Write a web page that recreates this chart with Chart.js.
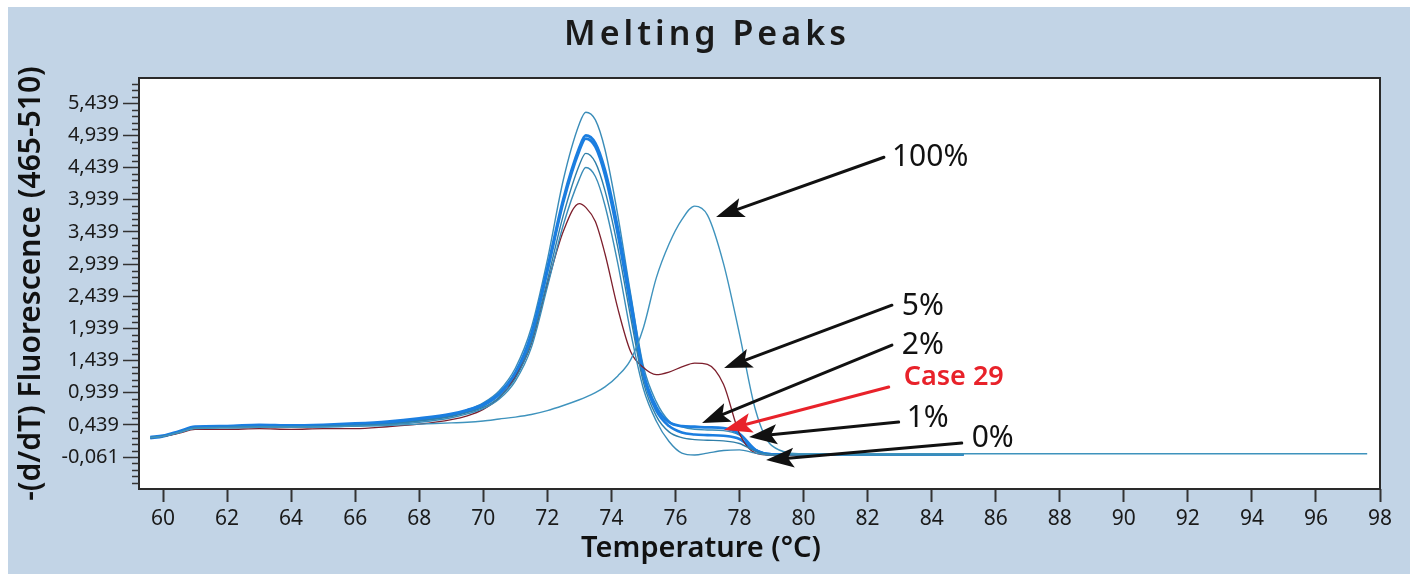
<!DOCTYPE html>
<html><head><meta charset="utf-8">
<script src="https://cdn.jsdelivr.net/npm/chart.js@4.4.1/dist/chart.umd.min.js"></script>
<style>html,body{margin:0;padding:0;background:#fff;}canvas{display:block;}</style>
</head><body>
<canvas id="c" width="1410" height="574"></canvas>
<script>
const chartTitle = 'Melting Peaks';
const xTitle = 'Temperature (°C)';
const yTitle = '-(d/dT) Fluorescence (465-510)';

const temps = [59.6, 60, 60.5, 61, 62, 63, 64, 65, 66, 67, 68, 69, 69.5, 70, 70.5, 71, 71.5, 72, 72.5, 73, 73.2, 73.5, 73.8, 74.2, 74.6, 75, 75.4, 75.8, 76.2, 76.6, 77, 77.5, 78, 78.5, 79, 80, 81, 82, 83, 84, 85, 86, 88, 90, 92, 94, 96, 97.6];

const curveA = [0.24, 0.27, 0.33, 0.40, 0.41, 0.42, 0.42, 0.43, 0.45, 0.48, 0.53, 0.60, 0.67, 0.78, 0.97, 1.32, 1.95, 3.00, 4.25, 5.12, 5.30, 5.18, 4.72, 3.70, 2.48, 1.35, 0.80, 0.50, 0.41, 0.37, 0.36, 0.35, 0.28, 0.06, -0.01, -0.02, -0.02, -0.02, -0.02, -0.02, -0.02, null, null, null, null, null, null, null];
const curveB = [0.25, 0.27, 0.34, 0.41, 0.42, 0.44, 0.43, 0.44, 0.46, 0.49, 0.54, 0.61, 0.67, 0.76, 0.93, 1.25, 1.85, 2.87, 3.95, 4.75, 4.94, 4.82, 4.40, 3.50, 2.38, 1.25, 0.72, 0.48, 0.42, 0.41, 0.40, 0.39, 0.30, 0.05, -0.02, -0.02, -0.02, -0.02, -0.02, -0.02, -0.02, null, null, null, null, null, null, null];
const curveC = [0.23, 0.26, 0.33, 0.40, 0.41, 0.42, 0.41, 0.42, 0.43, 0.46, 0.51, 0.59, 0.65, 0.74, 0.91, 1.22, 1.80, 2.82, 3.90, 4.70, 4.89, 4.76, 4.32, 3.40, 2.28, 1.20, 0.66, 0.42, 0.32, 0.29, 0.28, 0.27, 0.22, 0.04, -0.02, -0.02, -0.02, -0.02, -0.02, -0.02, -0.02, null, null, null, null, null, null, null];
const curveD = [0.24, 0.26, 0.32, 0.39, 0.40, 0.41, 0.41, 0.42, 0.43, 0.45, 0.50, 0.57, 0.63, 0.71, 0.87, 1.16, 1.72, 2.68, 3.70, 4.48, 4.66, 4.52, 4.08, 3.20, 2.12, 1.10, 0.58, 0.33, 0.24, 0.21, 0.20, 0.19, 0.15, 0.03, -0.02, -0.02, -0.02, -0.02, -0.02, -0.02, -0.02, null, null, null, null, null, null, null];
const curveE = [0.24, 0.26, 0.32, 0.39, 0.40, 0.41, 0.41, 0.41, 0.42, 0.44, 0.48, 0.55, 0.61, 0.69, 0.84, 1.12, 1.64, 2.58, 3.55, 4.26, 4.44, 4.30, 3.85, 2.95, 1.88, 1.00, 0.50, 0.18, 0.00, -0.03, 0.00, 0.04, 0.05, 0.00, -0.03, -0.03, -0.03, -0.03, -0.03, -0.03, -0.03, null, null, null, null, null, null, null];
const curve5pct = [0.24, 0.26, 0.31, 0.37, 0.37, 0.38, 0.37, 0.38, 0.38, 0.41, 0.45, 0.52, 0.58, 0.68, 0.86, 1.18, 1.70, 2.62, 3.45, 3.88, 3.82, 3.60, 3.10, 2.25, 1.58, 1.33, 1.22, 1.26, 1.34, 1.40, 1.38, 1.07, 0.30, 0.00, -0.03, -0.03, -0.03, null, null, null, null, null, null, null, null, null, null, null];
const curve100pct = [0.24, 0.26, 0.32, 0.38, 0.39, 0.40, 0.40, 0.41, 0.42, 0.43, 0.45, 0.47, 0.48, 0.50, 0.53, 0.56, 0.60, 0.66, 0.74, 0.83, 0.87, 0.94, 1.03, 1.20, 1.45, 1.95, 2.72, 3.25, 3.63, 3.84, 3.70, 2.95, 1.85, 0.67, 0.12, -0.01, -0.01, -0.01, -0.01, -0.01, -0.01, -0.01, -0.01, -0.01, -0.01, -0.01, -0.01, -0.01];

const xTickValues = [60, 62, 64, 66, 68, 70, 72, 74, 76, 78, 80, 82, 84, 86, 88, 90, 92, 94, 96, 98];
const yTickValues = [-0.061, 0.439, 0.939, 1.439, 1.939, 2.439, 2.939, 3.439, 3.939, 4.439, 4.939, 5.439];
const yTickLabels = ['-0,061', '0,439', '0,939', '1,439', '1,939', '2,439', '2,939', '3,439', '3,939', '4,439', '4,939', '5,439'];

const annoLabels = ['100%', '5%', '2%', 'Case 29', '1%', '0%'];
const annoTextX = [82.76, 83.07, 83.07, 83.13, 83.22, 85.25];
const annoTextY = [4.60, 2.285, 1.679, 1.182, 0.545, 0.234];
const annoTailX = [82.51, 82.76, 82.76, 82.66, 82.97, 84.94];
const annoTailY = [4.60, 2.30, 1.679, 1.027, 0.483, 0.157];
const annoTipX = [77.27, 77.52, 76.83, 77.52, 78.30, 78.83];
const annoTipY = [3.67, 1.322, 0.467, 0.359, 0.250, -0.108];

const FONT = "'Noto Sans', 'Open Sans', sans-serif";
const C_TEAL = '#3a8cb8', C_BLUE = '#1b7ee0', C_RED = '#7d1f2c';

function pts(arr) { return temps.map((t, i) => ({x: t, y: arr[i]})); }
function ds(arr, color, w) {
  return {data: pts(arr), borderColor: color, borderWidth: w, pointRadius: 0, fill: false,
          cubicInterpolationMode: 'monotone', spanGaps: false};
}

const decorPlugin = {
  id: 'decor',
  beforeDraw(chart) {
    const ctx = chart.ctx, a = chart.chartArea;
    ctx.save();
    ctx.fillStyle = '#ffffff';
    ctx.fillRect(0, 0, chart.width, chart.height);
    ctx.fillStyle = '#c2d4e6';
    ctx.fillRect(8, 7, chart.width - 8, chart.height - 7);
    ctx.fillStyle = '#ffffff';
    ctx.fillRect(a.left, a.top, a.right - a.left, a.bottom - a.top);
    ctx.restore();
  },
  afterDraw(chart) {
    const ctx = chart.ctx, a = chart.chartArea;
    const xs = chart.scales.x, ys = chart.scales.y;
    ctx.save();
    ctx.strokeStyle = '#2a2a2a';
    ctx.lineWidth = 2;
    ctx.strokeRect(a.left, a.top, a.right - a.left, a.bottom - a.top);
    ctx.lineWidth = 1.5;
    ctx.strokeStyle = '#333';
    const step = yTickValues[1] - yTickValues[0];
    for (let k = -1; k < yTickValues.length; k++) {
      const base = k < 0 ? yTickValues[0] - step : yTickValues[k];
      for (let m = 1; m < 5; m++) {
        const v = base + m * step / 5;
        if (v < ys.min || v > ys.max) continue;
        const py = Math.round(ys.getPixelForValue(v)) + 0.5;
        ctx.beginPath(); ctx.moveTo(a.left - 7, py); ctx.lineTo(a.left, py); ctx.stroke();
      }
    }
    ctx.fillStyle = '#1a1a1a';
    ctx.font = '600 34px ' + FONT;
    ctx.textAlign = 'center';
    ctx.textBaseline = 'middle';
    try { ctx.letterSpacing = '4px'; } catch (e) {}
    ctx.fillText(chartTitle, 707, 35);
    try { ctx.letterSpacing = '0px'; } catch (e) {}
    ctx.fillStyle = '#111';
    ctx.font = '600 29px ' + FONT;
    ctx.fillText(xTitle, 701, 549);
    for (let i = 0; i < annoLabels.length; i++) {
      const col = annoLabels[i] === 'Case 29' ? '#e8222a' : '#111111';
      const x0 = xs.getPixelForValue(annoTailX[i]), y0 = ys.getPixelForValue(annoTailY[i]);
      const x1 = xs.getPixelForValue(annoTipX[i]), y1 = ys.getPixelForValue(annoTipY[i]);
      const ang = Math.atan2(y1 - y0, x1 - x0);
      const hl = 28, hw = 10;
      const c = Math.cos(ang), s = Math.sin(ang);
      const bx = x1 - hl * c, by = y1 - hl * s;
      ctx.strokeStyle = col; ctx.fillStyle = col; ctx.lineWidth = 3; ctx.lineCap = 'round';
      ctx.beginPath(); ctx.moveTo(x0, y0); ctx.lineTo(bx + 6 * c, by + 6 * s); ctx.stroke();
      ctx.beginPath();
      ctx.moveTo(x1, y1);
      ctx.lineTo(bx + hw * s, by - hw * c);
      ctx.lineTo(bx + 6 * c, by + 6 * s);
      ctx.lineTo(bx - hw * s, by + hw * c);
      ctx.closePath(); ctx.fill();
      ctx.textAlign = 'left'; ctx.textBaseline = 'middle';
      ctx.font = (annoLabels[i] === 'Case 29' ? '600 27px ' : '30px ') + FONT;
      ctx.fillText(annoLabels[i], xs.getPixelForValue(annoTextX[i]), ys.getPixelForValue(annoTextY[i]));
    }
    ctx.restore();
  }
};

new Chart(document.getElementById('c'), {
  type: 'line',
  data: {
    datasets: [
      ds(curve100pct, '#3f93bd', 1.4),
      ds(curveE, C_TEAL, 1.4),
      ds(curveD, '#2f7ea8', 1.4),
      ds(curve5pct, C_RED, 1.3),
      ds(curveC, C_BLUE, 2.6),
      ds(curveB, C_BLUE, 2.8),
      ds(curveA, C_TEAL, 1.4)
    ]
  },
  options: {
    responsive: false, animation: false, devicePixelRatio: 1,
    layout: {padding: {left: 0, top: 78, right: 30, bottom: 0}},
    plugins: {legend: {display: false}, tooltip: {enabled: false}, title: {display: false}},
    scales: {
      x: {
        type: 'linear', min: 59.25, max: 98,
        afterBuildTicks: s => { s.ticks = xTickValues.map(v => ({value: v})); },
        afterFit: s => { s.height = 85; },
        grid: {display: true, drawOnChartArea: false, drawTicks: true, tickLength: 13, tickWidth: 2, tickColor: '#333'},
        border: {display: false},
        ticks: {font: {family: FONT, size: 21}, color: '#1a1a1a', padding: 4, maxRotation: 0, autoSkip: false,
                callback: v => String(v)},
        title: {display: false}
      },
      y: {
        type: 'linear', min: -0.558, max: 5.832,
        afterBuildTicks: s => { s.ticks = yTickValues.map(v => ({value: v})); },
        afterFit: s => { s.width = 139; },
        grid: {display: true, drawOnChartArea: false, drawTicks: true, tickLength: 16, tickWidth: 1.5, tickColor: '#333'},
        border: {display: false},
        ticks: {font: {family: FONT, size: 20}, color: '#1a1a1a', padding: 4, autoSkip: false,
                callback: (v, i) => yTickLabels[i]},
        title: {display: true, text: yTitle, color: '#111', font: {family: FONT, size: 30, weight: '600'},
                padding: {top: 13, bottom: 0}}
      }
    }
  },
  plugins: [decorPlugin]
});
</script>
</body></html>
